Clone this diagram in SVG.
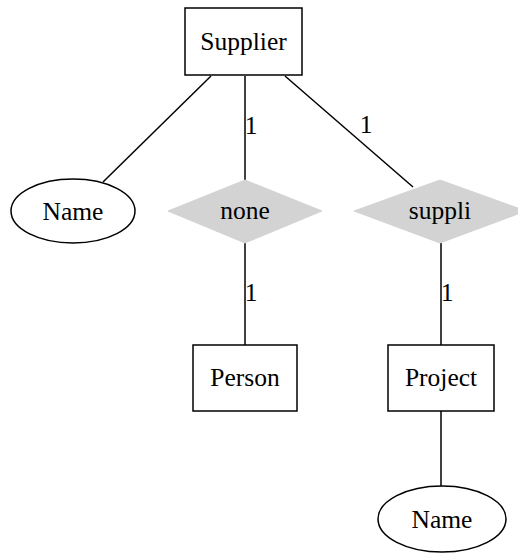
<svg xmlns="http://www.w3.org/2000/svg" width="518" height="554" viewBox="0 0 518 554">
<style>
text{font-family:"Liberation Serif","Times New Roman",serif;font-size:25.5px;fill:#000;text-anchor:middle;dominant-baseline:central}
.box{fill:#fff;stroke:#000;stroke-width:1.5}
.dia{fill:#d3d3d3;stroke:#d3d3d3}
.edge{stroke:#000;stroke-width:1.5;fill:none}
</style>
<rect width="518" height="554" fill="#fff"/>
<g id="connectors">
<line class="edge" x1="211" y1="76" x2="103" y2="182"/>
<line class="edge" x1="245" y1="76" x2="245" y2="180"/>
<line class="edge" x1="285" y1="76" x2="413" y2="187"/>
<line class="edge" x1="245" y1="243" x2="245" y2="345"/>
<line class="edge" x1="441" y1="243" x2="441" y2="345"/>
<line class="edge" x1="441" y1="411" x2="441" y2="487"/>
<text x="251" y="125">1</text>
<text x="366" y="124">1</text>
<text x="251" y="292">1</text>
<text x="447" y="292">1</text>
</g>
<g id="supplier"><rect class="box" x="185" y="8" width="117" height="67"/><text x="243.5" y="41">Supplier</text></g>
<g id="name1"><ellipse class="box" cx="73" cy="211" rx="62" ry="32"/><text x="73" y="211">Name</text></g>
<g id="none"><polygon class="dia" points="168,211 245,180 322,211 245,243"/><text x="245" y="210">none</text></g>
<g id="suppli"><polygon class="dia" points="354,211 440,180 526,211 440,243"/><text x="440" y="210">suppli</text></g>
<g id="person"><rect class="box" x="193" y="345" width="104" height="66"/><text x="245" y="377">Person</text></g>
<g id="project"><rect class="box" x="388" y="345" width="106" height="66"/><text x="441" y="377">Project</text></g>
<g id="name2"><ellipse class="box" cx="442" cy="519" rx="64" ry="33"/><text x="442" y="519">Name</text></g>
</svg>
